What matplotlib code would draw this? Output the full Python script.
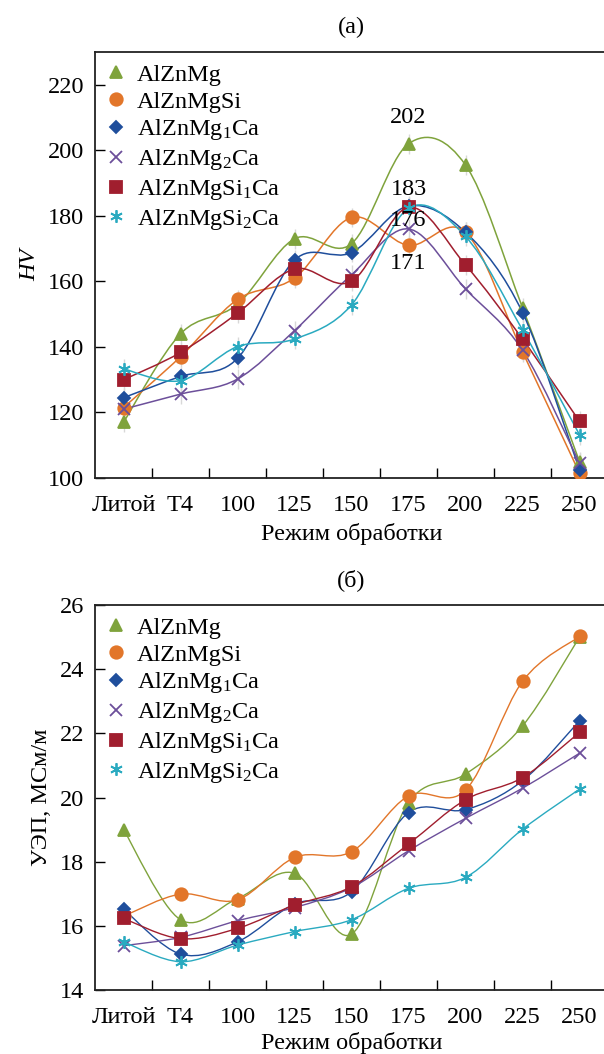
import matplotlib
matplotlib.use("Agg")
import matplotlib.pyplot as plt
from matplotlib.path import Path
from matplotlib.patches import PathPatch

plt.rcParams['font.family'] = ['Liberation Serif', 'DejaVu Serif']
plt.rcParams['mathtext.fontset'] = 'custom'
plt.rcParams['mathtext.rm'] = 'Liberation Serif'
plt.rcParams['mathtext.it'] = 'Liberation Serif:italic'

categories = ['Литой', 'T4', '100', '125', '150', '175', '200', '225', '250']
series_names = ['AlZnMg', 'AlZnMgSi', 'AlZnMg$_1$Ca', 'AlZnMg$_2$Ca',
                'AlZnMgSi$_1$Ca', 'AlZnMgSi$_2$Ca']
colors = ['#7fa33c', '#e2762a', '#1f4e9c', '#6c4f9a', '#a01e2e', '#2aaac0']
markers = ['^', 'o', 'D', 'x', 's', (6, 2, 0)]
msizes = [8, 9, 6.5, 8, 8.5, 9]

hv_AlZnMg = [117, 144, 153, 173, 171.5, 202, 195.5, 152, 105]
hv_AlZnMgSi = [121.5, 137, 154.5, 161, 179.5, 171, 175, 138.5, 101.5]
hv_AlZnMg1Ca = [124.5, 131, 136.5, 166.5, 168.8, 183, 175, 150.5, 102.5]
hv_AlZnMg2Ca = [121, 125.6, 130.2, 145, 162, 176, 157.7, 139, 104.6]
hv_AlZnMgSi1Ca = [130, 138.3, 150.3, 163.8, 160, 182.6, 165, 142.4, 117.3]
hv_AlZnMgSi2Ca = [133.3, 129.7, 140.1, 142.4, 152.8, 182.3, 173.7, 145.2, 113.2]
hv_err = [3, 3, 3, 3, 3, 3, 3, 3, 3]

sigma_AlZnMg = [19.0, 16.19, 16.85, 17.64, 15.74, 19.84, 20.73, 22.23, 25.0]
sigma_AlZnMgSi = [16.3, 16.99, 16.81, 18.13, 18.31, 20.05, 20.23, 23.62, 25.02]
sigma_AlZnMg1Ca = [16.52, 15.12, 15.5, 16.68, 17.06, 19.53, 19.62, 20.52, 22.39]
sigma_AlZnMg2Ca = [15.38, 15.64, 16.16, 16.57, 17.19, 18.34, 19.35, 20.29, 21.38]
sigma_AlZnMgSi1Ca = [16.23, 15.6, 15.92, 16.65, 17.22, 18.55, 19.93, 20.62, 22.03]
sigma_AlZnMgSi2Ca = [15.5, 14.88, 15.4, 15.82, 16.19, 17.17, 17.51, 19.01, 20.26]

hv_series = [hv_AlZnMg, hv_AlZnMgSi, hv_AlZnMg1Ca, hv_AlZnMg2Ca, hv_AlZnMgSi1Ca, hv_AlZnMgSi2Ca]
sigma_series = [sigma_AlZnMg, sigma_AlZnMgSi, sigma_AlZnMg1Ca, sigma_AlZnMg2Ca,
                sigma_AlZnMgSi1Ca, sigma_AlZnMgSi2Ca]

hv_labels = [('202', 0, 5, 26), ('183', 2, 5, 17), ('176', 3, 5, 8), ('171', 1, 5, -18)]


def smooth_path(xs, ys):
    n = len(xs)
    verts = [(xs[0], ys[0])]
    codes = [Path.MOVETO]
    for i in range(n - 1):
        x0, y0 = (xs[i - 1], ys[i - 1]) if i > 0 else (xs[i], ys[i])
        x1, y1 = xs[i], ys[i]
        x2, y2 = xs[i + 1], ys[i + 1]
        x3, y3 = (xs[i + 2], ys[i + 2]) if i + 2 < n else (x2, y2)
        c1 = (x1 + (x2 - x0) / 6.0, y1 + (y2 - y0) / 6.0)
        c2 = (x2 - (x3 - x1) / 6.0, y2 - (y3 - y1) / 6.0)
        verts += [c1, c2, (x2, y2)]
        codes += [Path.CURVE4] * 3
    return Path(verts, codes)


fig = plt.figure(figsize=(6.04, 10.54), dpi=100)
ax1 = fig.add_axes([95 / 604, 1 - 478 / 1054, 513 / 604, 426 / 1054])
ax2 = fig.add_axes([95 / 604, 1 - 990 / 1054, 513 / 604, 385 / 1054])

xs = list(range(len(categories)))


def style_axes(ax, ylim, yticks, ylabel, title, italic=False, xlabelpad=5):
    ax.set_xlim(-0.5, len(categories) - 0.5)
    ax.set_ylim(*ylim)
    ax.set_yticks(yticks)
    ax.set_xticks(xs)
    ax.set_xticklabels(categories)
    ax.set_xticks([i + 0.5 for i in range(len(categories) - 1)], minor=True)
    ax.tick_params(axis='x', which='major', length=0, labelsize=17.5, pad=12)
    ax.tick_params(axis='x', which='minor', direction='in', length=7, width=1)
    ax.tick_params(axis='y', direction='in', length=7, width=1, labelsize=17.5, pad=8)
    for s in ax.spines.values():
        s.set_linewidth(1.3)
        s.set_color('#222222')
    ax.set_xlabel('Режим обработки', fontsize=17.5, labelpad=xlabelpad)
    ax.set_ylabel(ylabel, fontsize=17.5, style='italic' if italic else 'normal', labelpad=5)
    ax.set_title(title, fontsize=17.5, pad=14)


for k, ys in enumerate(hv_series):
    ax1.errorbar(xs, ys, yerr=hv_err, fmt='none', ecolor='#d8d8d8', elinewidth=1.0, zorder=1)
    ax1.add_patch(PathPatch(smooth_path(xs, ys), facecolor='none', edgecolor=colors[k],
                            lw=1.1, zorder=2))
    ax1.plot(xs, ys, linestyle='none', marker=markers[k], ms=msizes[k], color=colors[k],
             mec=colors[k], mew=1.3, label=series_names[k], zorder=3)

for text, si, ci, dy in hv_labels:
    ax1.annotate(text, xy=(xs[ci], hv_series[si][ci]), xytext=(0, dy),
                 textcoords='offset pixels', ha='center', va='center', fontsize=17.5, zorder=4)

for k, ys in enumerate(sigma_series):
    ax2.add_patch(PathPatch(smooth_path(xs, ys), facecolor='none', edgecolor=colors[k],
                            lw=1.0, zorder=2))
    ax2.plot(xs, ys, linestyle='none', marker=markers[k], ms=msizes[k], color=colors[k],
             mec=colors[k], mew=1.3, label=series_names[k], zorder=3)

style_axes(ax1, (100, 230), [100, 120, 140, 160, 180, 200, 220], 'HV', '(a)', italic=True)
style_axes(ax2, (14, 26), [14, 16, 18, 20, 22, 24, 26], 'УЭП, МСм/м', '(б)', xlabelpad=3)

for ax in (ax1, ax2):
    ax.legend(loc='upper left', frameon=False, fontsize=17.5, handlelength=0.8,
              handletextpad=0.45, labelspacing=0.2, borderaxespad=0.18, borderpad=0.3)

fig.savefig('out.png', dpi=100)
